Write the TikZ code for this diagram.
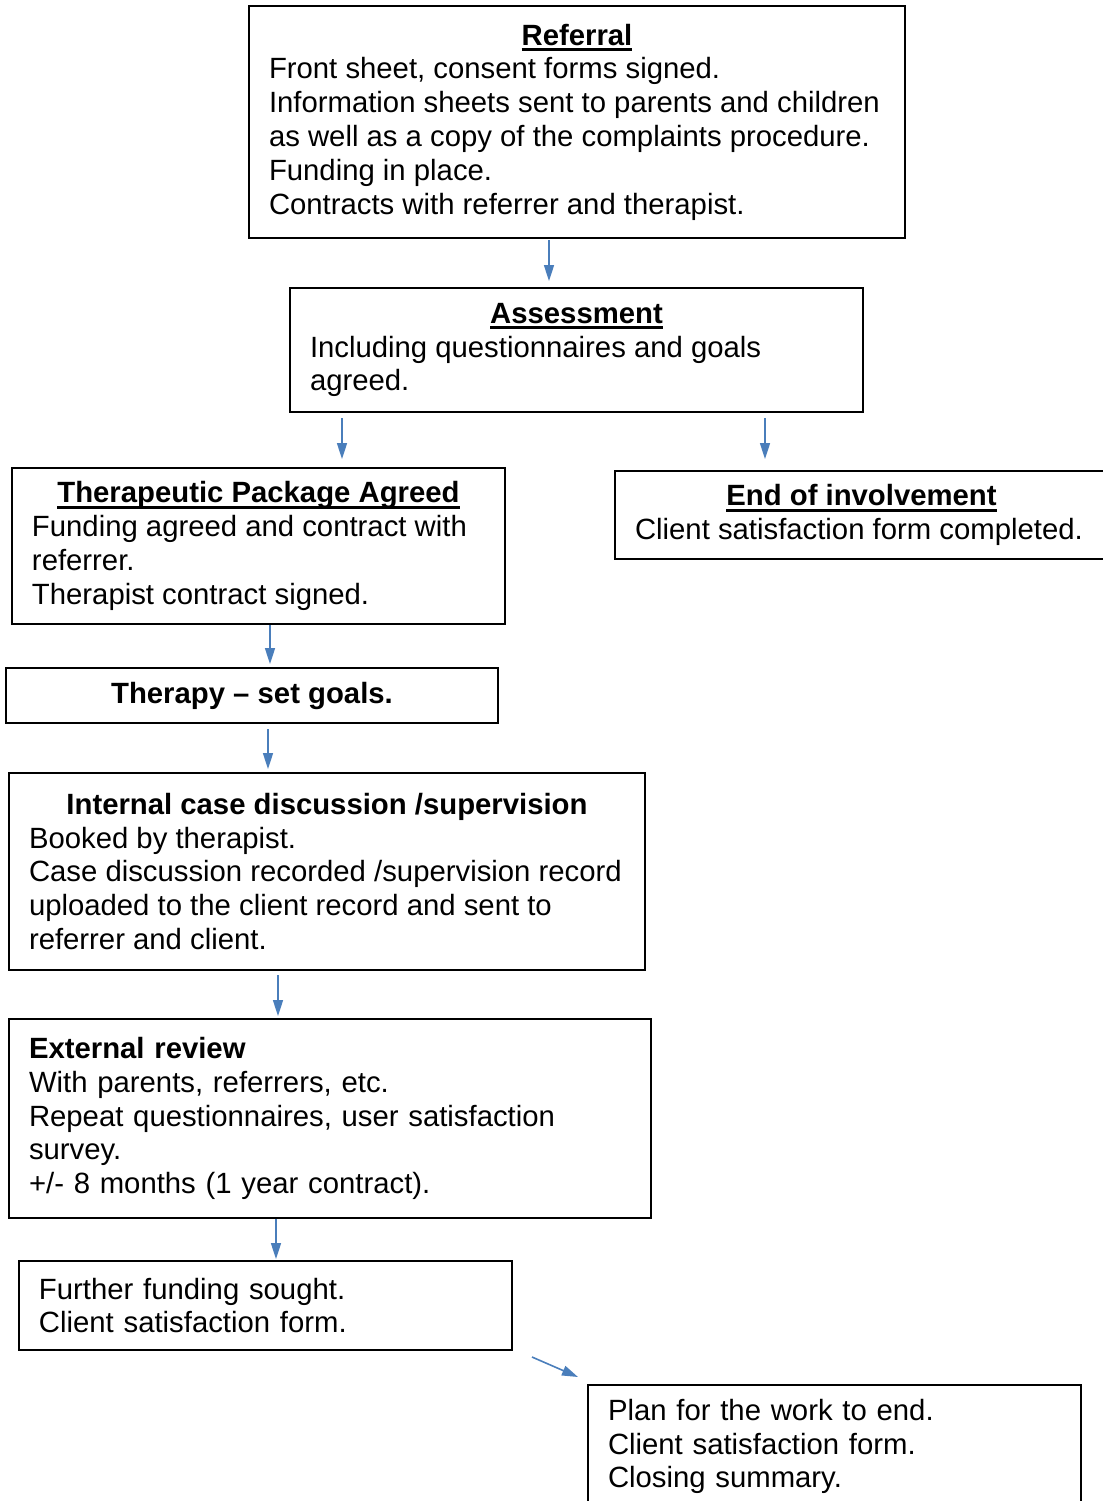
\documentclass[tikz,border=0pt]{standalone}
\usepackage{fontspec}
\setmainfont{Liberation Sans}
\usepackage{tikz}
\usetikzlibrary{positioning,arrows.meta}

\definecolor{arrowblue}{HTML}{4A7EBB}
\newcommand{\ulhead}[1]{\setbox0=\hbox{\bfseries #1}\rlap{\rule[-3pt]{\wd0}{1.4pt}}\box0}

\begin{document}
\begin{tikzpicture}[
  x=0.5pt, y=0.5pt,
  box/.style={draw, line width=1pt, anchor=north west, align=left, inner xsep=10pt, inner ysep=0pt,
    font=\fontsize{14.65pt}{16.9pt}\selectfont},
  arrow/.style={-{Triangle[width=5pt,length=8pt]}, draw=arrowblue, fill=arrowblue, line width=0.8pt}
]
\useasboundingbox (0,0) rectangle (1103,-1501);
\clip (0,0) rectangle (1103,-1501);

\node[box, minimum width=328pt, minimum height=116pt] (ref) at (248,-5)
  {\makebox[308pt]{\ulhead{Referral}}\\
   Front sheet, consent forms signed.\\
   Information sheets sent to parents and children\\
   as well as a copy of the complaints procedure.\\
   Funding in place.\\
   Contracts with referrer and therapist.};
\node[box, minimum width=286.5pt, minimum height=62pt] (asm) at (289,-287)
  {\makebox[266.5pt]{\ulhead{Assessment}}\\
   Including questionnaires and goals\\
   agreed.};
\node[box, minimum width=246.5pt, minimum height=78pt] (thp) at (11,-467)
  {\makebox[226.5pt]{\ulhead{Therapeutic Package Agreed}}\\
   Funding agreed and contract with\\
   referrer.\\
   Therapist contract signed.};
\node[box, minimum width=246.5pt, minimum height=44pt] (end) at (614,-470)
  {\makebox[226.5pt]{\ulhead{End of involvement}}\\
   Client satisfaction form completed.};
\node[box, minimum width=246pt, minimum height=27.5pt, align=center] (thy) at (5,-667)
  {\makebox[226pt]{\textbf{Therapy -- set goals.}}};
\node[box, minimum width=318pt, minimum height=98.5pt] (int) at (8,-772)
  {\makebox[298pt]{\textbf{Internal case discussion /supervision}}\\
   Booked by therapist.\\
   Case discussion recorded /supervision record\\
   uploaded to the client record and sent to\\
   referrer and client.};
\node[box, text width=301pt, minimum height=99.5pt] (ext) at (8,-1018)
  {\textbf{External review}\\
   With parents, referrers, etc.\\
   Repeat questionnaires, user satisfaction\\
   survey.\\
   +/- 8 months (1 year contract).};
\node[box, text width=226.5pt, minimum height=44.5pt] (fur) at (18,-1260)
  {Further funding sought.\\
   Client satisfaction form.};
\node[box, text width=226.5pt, minimum height=61.5pt] (plan) at (587,-1384)
  {Plan for the work to end.\\
   Client satisfaction form.\\
   Closing summary.};

\draw[arrow, shorten <=0.5pt, shorten >=3pt] ([xshift=-14pt]ref.south) -- ([xshift=-13.75pt]asm.north);
\draw[arrow, shorten <=2.5pt, shorten >=4pt] ([xshift=-117.25pt]asm.south) -- ([xshift=41.75pt]thp.north);
\draw[arrow, shorten <=2.5pt, shorten >=5.5pt] ([xshift=94.25pt]asm.south) -- ([xshift=-48.25pt]end.north);
\draw[arrow, shorten >=1.5pt] ([xshift=5.75pt]thp.south) -- ([xshift=9pt]thy.north);
\draw[arrow, shorten <=2.5pt, shorten >=1.5pt] ([xshift=8pt]thy.south) -- ([xshift=-29.5pt]int.north);
\draw[arrow, shorten <=2pt, shorten >=1pt] ([xshift=-24.5pt]int.south) -- ([xshift=-26pt]ext.north);
\draw[arrow, shorten >=0.5pt] ([xshift=-27pt]ext.south) -- ([xshift=5.25pt]fur.north);
\draw[arrow] ([shift={(9.5pt,-3pt)}]fur.south east) -- ([shift={(-4.5pt,3.5pt)}]plan.north west);
\end{tikzpicture}
\end{document}
